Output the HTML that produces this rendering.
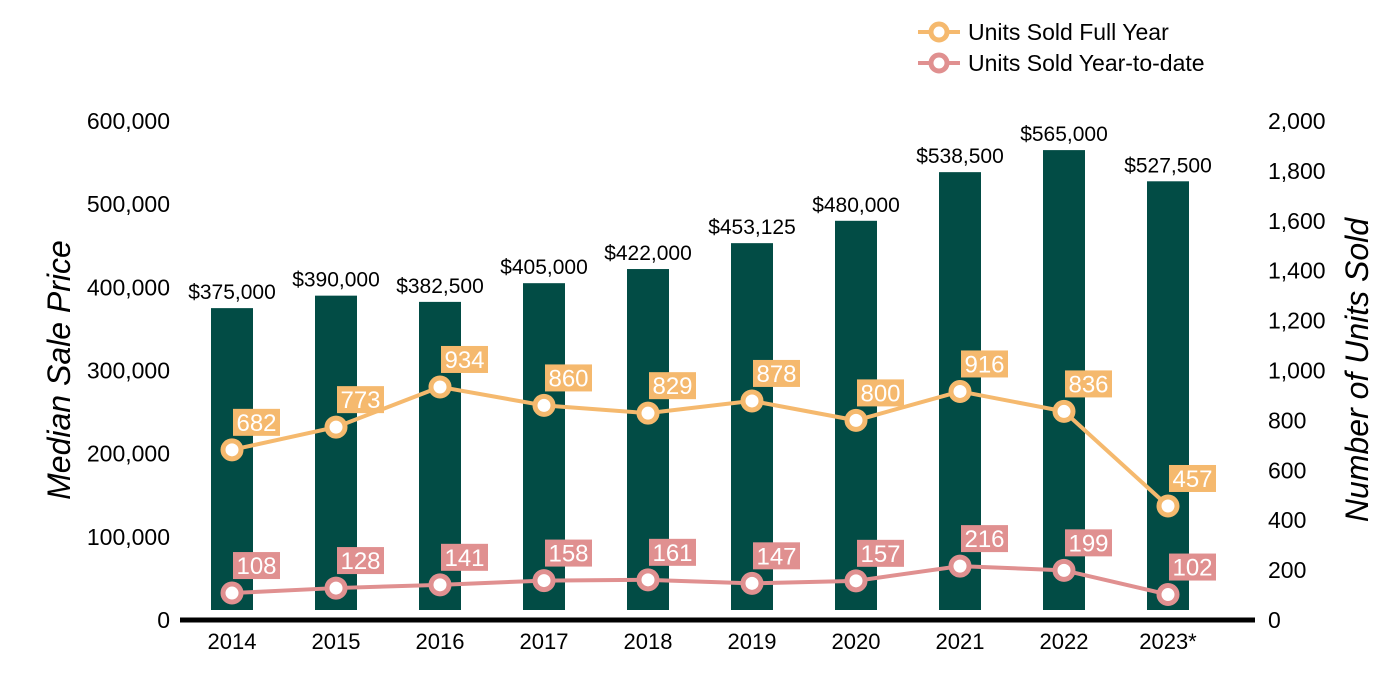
<!DOCTYPE html>
<html><head><meta charset="utf-8"><style>
body{margin:0;background:#fff}
svg{display:block;font-family:"Liberation Sans",Arial,sans-serif}
</style></head><body>
<svg id="c" width="1400" height="700"></svg>
<script>
const years=["2014","2015","2016","2017","2018","2019","2020","2021","2022","2023*"];
const prices=[375000,390000,382500,405000,422000,453125,480000,538500,565000,527500];
const priceLabels=["$375,000","$390,000","$382,500","$405,000","$422,000","$453,125","$480,000","$538,500","$565,000","$527,500"];
const fullYear=[682,773,934,860,829,878,800,916,836,457];
const ytd=[108,128,141,158,161,147,157,216,199,102];
const leftTicks=[0,100000,200000,300000,400000,500000,600000];
const rightTicks=[0,200,400,600,800,1000,1200,1400,1600,1800,2000];
const NS="http://www.w3.org/2000/svg",svg=document.getElementById('c');
function mk(t,a,p){const e=document.createElementNS(NS,t);for(const k in a)e.setAttribute(k,a[k]);(p||svg).appendChild(e);return e;}
const y0=620,yTop=121;
const yL=v=>y0-(v/600000)*(y0-yTop);
const yR=v=>y0-(v/2000)*(y0-yTop);
const xC=i=>232+i*104;
const fmt=v=>v.toLocaleString('en-US');
years.forEach((y,i)=>{
 const b=mk('rect',{x:xC(i)-21,y:yL(prices[i]),width:42,height:610-yL(prices[i]),fill:'#024c45'});
 
 const t=mk('text',{x:xC(i),y:yL(prices[i])-9,'text-anchor':'middle','font-size':21,fill:'#000'});
 t.textContent=priceLabels[i];
 
 const xl=mk('text',{x:xC(i),y:649,'text-anchor':'middle','font-size':22,fill:'#000'});
 xl.textContent=y;
 
});
const ax=mk('line',{x1:180,x2:1255,y1:620,y2:620,stroke:'#000','stroke-width':5});

leftTicks.forEach(v=>{const t=mk('text',{x:170,y:yL(v)+8,'text-anchor':'end','font-size':23});t.textContent=fmt(v);
 });
rightTicks.forEach(v=>{const t=mk('text',{x:1268,y:yR(v)+8,'font-size':23});t.textContent=fmt(v);
 });
const lt=mk('text',{transform:'translate(70,370) rotate(-90)','text-anchor':'middle','font-size':32,'font-style':'italic'});lt.textContent='Median Sale Price';

const rt=mk('text',{transform:'translate(1368,370) rotate(-90)','text-anchor':'middle','font-size':32,'font-style':'italic'});rt.textContent='Number of Units Sold';

function series(vals,col,name){
 const pl=mk('polyline',{points:vals.map((v,i)=>xC(i)+','+yR(v)).join(' '),fill:'none',stroke:col,'stroke-width':4});
 
 vals.forEach((v,i)=>{
  const c=mk('circle',{cx:xC(i),cy:yR(v),r:9,fill:'#fff',stroke:col,'stroke-width':5});
  
  const bx=mk('rect',{x:xC(i)+1,y:yR(v)-41,width:47,height:27,fill:col});
  
  const t=mk('text',{x:xC(i)+24.5,y:yR(v)-19,'text-anchor':'middle','font-size':24,fill:'#fff'});t.textContent=v;
  
 });
}
series(fullYear,'#f5b96e','full-year');
series(ytd,'#e09090','ytd');
[['Units Sold Full Year','#f5b96e',32],['Units Sold Year-to-date','#e09090',63]].forEach(([n,c,y],k)=>{
 const g=mk('g',{});
 mk('line',{x1:918,x2:960,y1:y,y2:y,stroke:c,'stroke-width':4},g);
 mk('circle',{cx:939,cy:y,r:8,fill:'#fff',stroke:c,'stroke-width':5},g);
 const t=mk('text',{x:968,y:y+8,'font-size':23},g);t.textContent=n;
});
</script>
</body></html>
